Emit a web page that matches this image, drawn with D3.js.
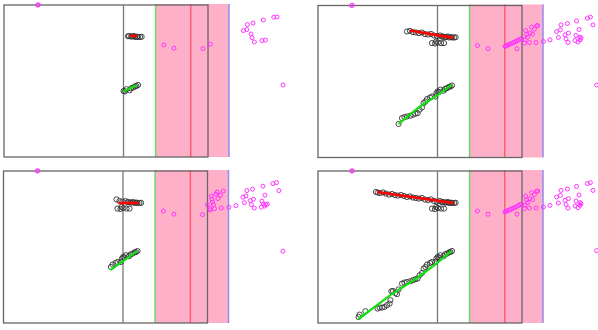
<!DOCTYPE html>
<html>
<head>
<meta charset="utf-8">
<script src="https://cdn.jsdelivr.net/npm/d3@7"></script>
<style>
  body { margin: 0; background: #fff; }
  svg { display: block; }
</style>
</head>
<body>
<div id="chart"></div>
<script>
// values in panel units: x 0..102, y 0..76 (y up)
const bandMarks = { divider: 59.75, bandStart: 75.8, redMark: 93.4, bandEnd: 112.5 };

const redSeries = [
  [29, 65.5], [30, 65.2], [31, 65], [32.5, 65.3], [34, 64.7], [35.5, 64.2], [37, 64.5], [38.5, 64],
  [40, 63.7], [41.5, 64], [43, 63.5], [44.5, 63], [46, 63.3], [47.5, 62.7], [49, 62.5], [50.5, 62.2],
  [52, 62.5], [53.5, 61.7], [55, 61.5], [56.5, 61.8], [58, 61], [59.5, 60.7], [61, 61], [62, 60.4],
  [62.5, 60.5], [63.5, 60.2], [64, 60.3], [65, 60.5], [65.5, 60], [66.5, 60.2], [67, 60], [68, 60], [68.8, 60.1]
];
const redCluster = [[57, 57.2], [58.5, 57], [60, 57.5], [61.5, 57.2], [63, 57.2], [59, 58]];

const greenSeries = [
  [20.3, 3], [20.8, 4.2], [23.7, 5.9], [29.8, 7.2], [30.8, 7.7], [32, 7.7], [33.2, 8], [34.5, 8.9],
  [35.8, 9.7], [36.2, 11.4], [36.7, 15.9], [37.5, 16], [38.7, 15], [39.5, 14.4], [40.3, 16.8], [42, 19.7],
  [43.2, 20.2], [44.5, 20.5], [46.2, 20.9], [47.5, 21.4], [48.7, 21.9], [49.8, 22.2], [50.8, 23.9], [52, 25],
  [52.8, 27.2], [53.7, 28], [54.5, 29.2], [56, 30], [57, 30.5], [58.7, 30.5], [59.2, 32.2], [59.8, 33],
  [60.5, 32.8], [61.2, 33.9], [62.8, 33.4], [63.5, 34.3], [64.5, 34.7], [65.5, 35.3], [66.2, 35.5], [67, 36]
];

const redLineA = [[63, 60.6], [66.4, 60.6]];
const redLineB = [[46, 63.5], [67.5, 59.8]];
const redLineC = [[57.5, 60], [67.5, 60]];
const redLineD = [[29.5, 65.5], [67.8, 60]];

const greenLineA = [[59.7, 32.7], [66.4, 36]];
const greenLineB = [[40.3, 16.8], [51, 25.5], [60.2, 31.4], [66.9, 36.4]];
const greenLineC = [[53.4, 26.4], [66.7, 35.9]];
const greenLineD = [[20.3, 2], [36, 13.8], [50.3, 23], [59, 29.5], [66.2, 35.5], [67, 36]];

const magentaA = [
  [16.8, 76], [17.2, 76.1], [79.9, 56], [85, 54.4], [99.5, 54.2], [103.2, 56.4],
  [119.7, 63.2], [121.4, 63.7], [121.7, 66.2], [124.5, 67], [123.5, 61.5], [124, 59.7], [125.2, 57.5],
  [129.7, 68.5], [129, 58.2], [130.7, 58.5], [134.9, 69.9], [136.5, 70], [139.5, 36]
];
const magentaB = [
  [16.8, 76], [17.2, 76.1], [79.7, 56], [85, 54.4], [93.5, 55.5], [93.8, 55.7],
  [94.3, 56], [95.2, 56.3], [96, 56.7], [96.8, 57], [97.7, 57.5], [98.5, 57.8], [99.3, 58.2],
  [100.2, 58.7], [101, 59.2], [101.8, 59.5], [99.5, 54.4], [103.2, 57.2], [103.5, 58.9], [103.8, 63.5],
  [104.3, 61.5], [104.8, 60.2], [105.7, 57.5], [106, 62.2], [106.8, 65.2], [107.3, 61.7], [108.2, 64.2],
  [109, 57.5], [109.3, 65.8], [109.8, 66], [112.7, 58], [116, 58.8], [119.3, 63], [120.2, 60],
  [121.2, 63.8], [121.5, 66.3], [123.5, 61.3], [124, 59.3], [124.7, 67], [125.2, 62.2], [125, 57.5],
  [128.5, 58.5], [129, 61], [129.3, 68.3], [130, 57.7], [130.5, 64], [131, 60.2], [131, 58.8],
  [131.5, 59.7], [134.7, 69.7], [136.2, 70.2], [137.5, 66.3], [139.3, 36.2]
];
const magentaC = [
  [16.8, 76], [17.2, 76.1], [79.9, 56], [85.2, 54.4], [99.5, 54.2], [101.9, 59.2],
  [103.2, 57.2], [103.4, 56.5], [103.9, 63.5], [104.2, 61.9], [104.5, 60.5], [105, 59.2], [105.5, 57.2],
  [106.2, 64.5], [106.9, 65.5], [107.2, 62.2], [108.5, 63.9], [108.9, 57.5], [109.9, 66], [112.7, 57.9],
  [116.2, 58.7], [119.7, 62.9], [120.4, 60.2], [121.2, 63.5], [121.7, 66.2], [123.4, 61.2], [123.9, 59.2],
  [124.5, 66.9], [125, 61.9], [125.4, 57.5], [128.9, 57.9], [129.2, 60.9], [129.7, 68.4], [130, 59.5],
  [130.5, 58.5], [130.7, 63.9], [131.2, 59.2], [131.9, 59.5], [134.7, 69.7], [136.5, 70.2], [137.7, 66.2],
  [139.7, 35.9]
];

const panels = [
  { left: 4, top: 5, redStart: 61.8, greenStart: 59.5, redLine: redLineA, greenLine: greenLineA, cluster: false, magenta: magentaA },
  { left: 318, top: 5.5, redStart: 44.5, greenStart: 40, redLine: redLineB, greenLine: greenLineB, cluster: true, magenta: magentaB },
  { left: 3.5, top: 171, redStart: 55.5, greenStart: 53.3, redLine: redLineC, greenLine: greenLineC, cluster: true, magenta: magentaC },
  { left: 318, top: 171, redStart: 29, greenStart: 20, redLine: redLineD, greenLine: greenLineD, cluster: true, magenta: magentaB }
];

const width = 598, height = 330;
const panelW = 204, panelH = 152;

const svg = d3.select("#chart").append("svg")
  .attr("width", width)
  .attr("height", height);

const x = d3.scaleLinear().domain([0, 102]).range([0, panelW]);
const y = d3.scaleLinear().domain([0, 76]).range([panelH, 0]);
const line = d3.line().x(d => x(d[0])).y(d => y(d[1]));

panels.forEach(p => {
  const g = svg.append("g").attr("transform", `translate(${p.left},${p.top})`);

  // pink band
  g.append("rect")
    .attr("x", x(bandMarks.bandStart))
    .attr("y", y(76.5))
    .attr("width", x(bandMarks.bandEnd) - x(bandMarks.bandStart))
    .attr("height", y(0) - y(76.5))
    .attr("fill", "#ffb0c9");

  g.append("line")
    .attr("x1", x(bandMarks.bandStart)).attr("x2", x(bandMarks.bandStart))
    .attr("y1", y(76.5)).attr("y2", y(0))
    .attr("stroke", "#6fd66f").attr("stroke-width", 1.5);

  g.append("line")
    .attr("x1", x(bandMarks.redMark)).attr("x2", x(bandMarks.redMark))
    .attr("y1", y(76.5)).attr("y2", y(0))
    .attr("stroke", "#ff4a5a").attr("stroke-width", 1.2);

  g.append("line")
    .attr("x1", x(bandMarks.bandEnd)).attr("x2", x(bandMarks.bandEnd))
    .attr("y1", y(76.5)).attr("y2", y(0))
    .attr("stroke", "#8f8cf5").attr("stroke-width", 1.5);

  // frame and divider
  g.append("rect")
    .attr("x", 0).attr("y", 0)
    .attr("width", panelW).attr("height", panelH)
    .attr("fill", "none")
    .attr("stroke", "#666").attr("stroke-width", 1.3);

  g.append("line")
    .attr("x1", x(bandMarks.divider)).attr("x2", x(bandMarks.divider))
    .attr("y1", 0).attr("y2", panelH)
    .attr("stroke", "#777").attr("stroke-width", 1.3);

  // black open circles
  const reds = redSeries.filter(d => d[0] >= p.redStart);
  const greens = greenSeries.filter(d => d[0] >= p.greenStart);
  const circles = reds.concat(greens, p.cluster ? redCluster : []);

  g.append("g")
    .selectAll("circle")
    .data(circles)
    .join("circle")
    .attr("cx", d => x(d[0]))
    .attr("cy", d => y(d[1]))
    .attr("r", 2.6)
    .attr("fill", "none")
    .attr("stroke", "#333")
    .attr("stroke-width", 0.9);

  g.append("path")
    .attr("d", line(p.redLine))
    .attr("fill", "none")
    .attr("stroke", "#ff0000")
    .attr("stroke-width", 2.6);

  g.append("path")
    .attr("d", line(p.greenLine))
    .attr("fill", "none")
    .attr("stroke", "#11e011")
    .attr("stroke-width", 2.2);

  // magenta points
  g.append("g")
    .selectAll("circle")
    .data(p.magenta)
    .join("circle")
    .attr("cx", d => x(d[0]))
    .attr("cy", d => y(d[1]))
    .attr("r", 2)
    .attr("fill", "none")
    .attr("stroke", "#ff33ff")
    .attr("stroke-width", 1);
});
</script>
</body>
</html>
